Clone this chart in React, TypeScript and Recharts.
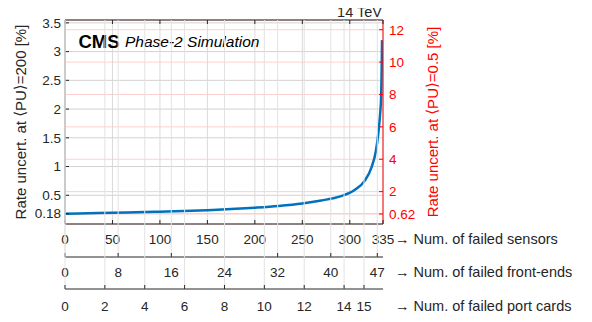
import React from 'react';
import { LineChart, Line, XAxis, YAxis, CartesianGrid } from 'recharts';

// ---- data ----
const sensors = [0, 25, 50, 75, 100, 125, 150, 175, 200, 225, 250, 270, 290, 305, 316, 323, 327.5, 330, 332, 333, 333.5, 334];
const rateAtPU200 = [0.18, 0.187, 0.195, 0.204, 0.214, 0.226, 0.241, 0.259, 0.283, 0.313, 0.357, 0.41, 0.48, 0.59, 0.76, 0.99, 1.27, 1.57, 1.92, 2.2, 2.6, 3.2];

const sensorTicks = [0, 50, 100, 150, 200, 250, 300, 335];
const frontEndTicks = [0, 8, 16, 24, 32, 40, 47];
const portCardTicks = [0, 2, 4, 6, 8, 10, 12, 14, 15];
const leftTicks = [0.18, 0.5, 1, 1.5, 2, 2.5, 3, 3.5];
const rightTicks = [0.62, 2, 4, 6, 8, 10, 12];

const maxSensors = 335;
const sensorsPerFrontEnd = 7;
const sensorsPerPortCard = 21;
const leftMax = 3.55;
const rightMax = 12.6;

const data = sensors.map((s, i) => ({
  s,
  fe: s / sensorsPerFrontEnd,
  pc: s / sensorsPerPortCard,
  r: rateAtPU200[i],
}));

// ---- style ----
const FONT = '"Liberation Sans", Arial, Helvetica, sans-serif';
const SYM = '"DejaVu Sans", sans-serif';
const TXT = '#262626';
const RED = '#ff0000';
const W = 592;
const H = 322;
const TOP = 19;
const TOP_AX = 1;
const LEFT_W = 65;
const RIGHT_W = 209;
const MAIN_H = 33;
const FE_H = 32;
const PC_H = 33;
const PLOT_H = H - TOP - TOP_AX - MAIN_H - FE_H - PC_H;

function EmptyTick() {
  return <g />;
}

function BottomTick(props: any) {
  const { x, y, payload, gridLen, labelGap } = props;
  const axisY = y - labelGap;
  return (
    <g>
      {gridLen > 0 && (
        <line x1={x} x2={x} y1={axisY} y2={axisY - gridLen} stroke="#e2e2e2" strokeWidth={1} />
      )}
      <line x1={x} x2={x} y1={axisY} y2={axisY - 4} stroke={TXT} strokeWidth={1} />
      <text x={x} y={y} textAnchor="middle" dominantBaseline="central" fill={TXT} fontSize={13.5} fontFamily={FONT}>
        {payload.value}
      </text>
    </g>
  );
}

const bottomTitle = (title: string, dy: number) => (p: any) => {
  const vb = p.viewBox;
  return (
    <text x={vb.x + vb.width + 12} y={vb.y + dy} dominantBaseline="central" fill={TXT} fontSize={14.5} fontFamily={FONT}>
      {title}
    </text>
  );
};

const yTitle = (pu: string, dx: number, color: string) => (p: any) => {
  const vb = p.viewBox;
  const cx = vb.x + dx;
  const cy = vb.y + vb.height / 2;
  return (
    <text x={cx} y={cy} transform={`rotate(-90, ${cx}, ${cy})`} textAnchor="middle" dominantBaseline="central" fill={color} fontSize={15} fontFamily={FONT}>
      Rate uncert. at <tspan fontFamily={SYM}>⟨</tspan>PU<tspan fontFamily={SYM}>⟩</tspan>={pu} [%]
    </text>
  );
};

const topTitles = (p: any) => {
  const vb = p.viewBox;
  return (
    <g>
      <text x={vb.x + vb.width - 1} y={vb.y - 7} textAnchor="end" dominantBaseline="central" fill={TXT} fontSize={14.5} fontFamily={FONT}>
        14 TeV
      </text>
      <text x={vb.x + 13.5} y={vb.y + 22} dominantBaseline="central" fill="#000" fontSize={18.5} fontWeight="bold" fontFamily={FONT}>
        CMS
      </text>
      <text x={vb.x + 60} y={vb.y + 22} dominantBaseline="central" fill="#000" fontSize={15.5} fontStyle="italic" fontFamily={FONT}>
        Phase-2 Simulation
      </text>
    </g>
  );
};

export default function App() {
  return (
    <div style={{ margin: '-8px 0 0 -8px', width: W, height: H }}>
      <LineChart width={W} height={H} data={data} margin={{ top: TOP, right: 0, bottom: 0, left: 0 }}>
        <CartesianGrid xAxisId="a_s" yAxisId="left" vertical={false} horizontal={true} stroke="#d2d2d2" />
        <CartesianGrid xAxisId="a_s" yAxisId="right" vertical={false} horizontal={true} stroke="#ffcfcf" />
        <CartesianGrid xAxisId="a_s" yAxisId="left" vertical={true} horizontal={false} stroke="#dadada" />

        <XAxis
          xAxisId="a_s"
          dataKey="s"
          type="number"
          domain={[0, maxSensors]}
          allowDataOverflow={true}
          ticks={sensorTicks}
          interval={0}
          height={MAIN_H}
          tickLine={false}
          tickSize={0}
          tickMargin={15}
          stroke={TXT}
          tick={<BottomTick gridLen={0} labelGap={15} />}
          label={{ content: bottomTitle('→ Num. of failed sensors', 15) }}
        />
        <XAxis
          xAxisId="b_fe"
          dataKey="fe"
          type="number"
          domain={[0, maxSensors / sensorsPerFrontEnd]}
          allowDataOverflow={true}
          ticks={frontEndTicks}
          interval={0}
          height={FE_H}
          tickLine={false}
          tickSize={0}
          tickMargin={15}
          stroke={TXT}
          tick={<BottomTick gridLen={PLOT_H + MAIN_H} labelGap={15} />}
          label={{ content: bottomTitle('→ Num. of failed front-ends', 15) }}
        />
        <XAxis
          xAxisId="c_pc"
          dataKey="pc"
          type="number"
          domain={[0, maxSensors / sensorsPerPortCard]}
          allowDataOverflow={true}
          ticks={portCardTicks}
          interval={0}
          height={PC_H}
          tickLine={false}
          tickSize={0}
          tickMargin={17}
          stroke={TXT}
          tick={<BottomTick gridLen={PLOT_H + MAIN_H + FE_H} labelGap={17} />}
          label={{ content: bottomTitle('→ Num. of failed port cards', 17) }}
        />
        <YAxis
          yAxisId="left"
          type="number"
          domain={[0, leftMax]}
          allowDataOverflow={true}
          ticks={leftTicks}
          interval={0}
          width={LEFT_W}
          tickSize={-4}
          tickMargin={8}
          stroke={TXT}
          tick={{ fill: TXT, fontSize: 13.5, fontFamily: FONT }}
          label={{ content: yTitle('200', 20, TXT) }}
        />
        <YAxis
          yAxisId="right"
          orientation="right"
          type="number"
          domain={[0, rightMax]}
          allowDataOverflow={true}
          ticks={rightTicks}
          interval={0}
          width={RIGHT_W}
          tickSize={-4}
          tickMargin={10}
          stroke={RED}
          tick={{ fill: RED, fontSize: 13.5, fontFamily: FONT }}
          label={{ content: yTitle('0.5', 49, RED) }}
        />
        <Line
          xAxisId="a_s"
          yAxisId="left"
          dataKey="r"
          type="monotone"
          stroke="#0072BD"
          strokeWidth={2.5}
          dot={false}
          isAnimationActive={false}
        />
        <XAxis
          xAxisId="z_top"
          orientation="top"
          dataKey="s"
          type="number"
          domain={[0, maxSensors]}
          allowDataOverflow={true}
          ticks={sensorTicks}
          interval={0}
          height={TOP_AX}
          tick={<EmptyTick />}
          tickSize={-4}
          stroke={TXT}
          label={{ content: topTitles }}
        />
      </LineChart>
    </div>
  );
}
